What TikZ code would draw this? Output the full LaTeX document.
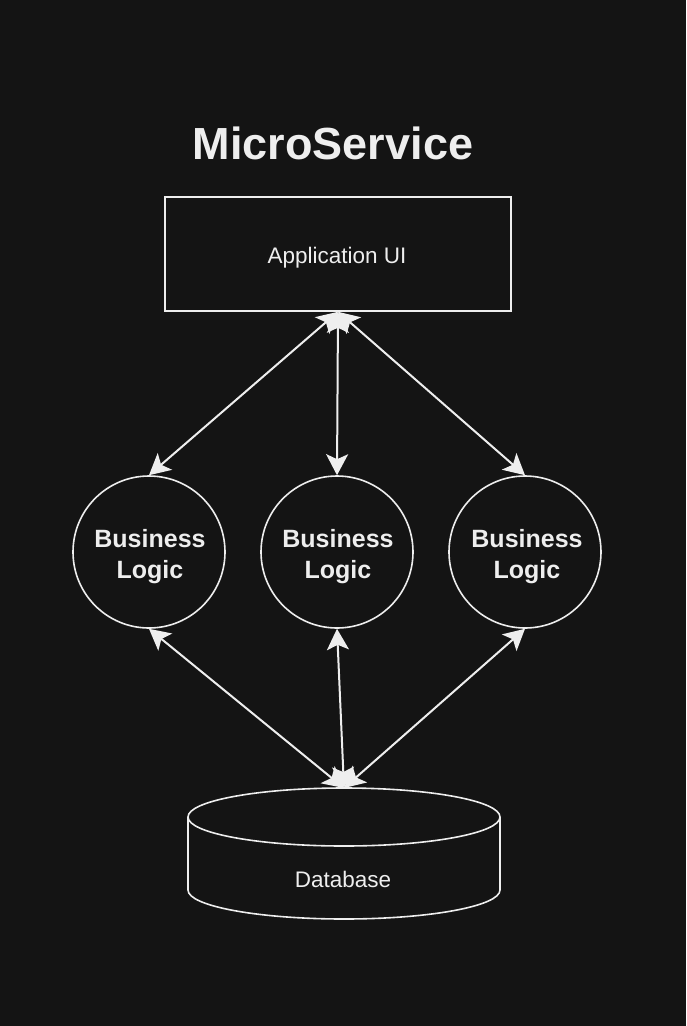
\documentclass[tikz,border=0pt]{standalone}
\usepackage{fontspec}
\setmainfont{Liberation Sans}
\usetikzlibrary{arrows.meta}
\definecolor{bg}{HTML}{141414}
\definecolor{fg}{HTML}{EEEEEE}
\begin{document}
\begin{tikzpicture}[x=1pt,y=-1pt,
  shapeline/.style={draw=fg, line width=1.6pt},
  conn/.style={draw=fg, line width=2pt, {Stealth[length=21pt,width=22pt,inset=5pt]}-{Stealth[length=21pt,width=22pt,inset=5pt]}},
  bizcircle/.style={shapeline, circle, minimum size=152pt, inner sep=0pt},
  biztext/.style={text=fg, anchor=base, inner sep=0pt, font=\fontsize{25}{30}\selectfont\bfseries},
  plaintext/.style={text=fg, anchor=base, inner sep=0pt, font=\fontsize{22.5}{27}\selectfont}
]
\fill[bg] (0,0) rectangle (686,1026);
\useasboundingbox (0,0) rectangle (686,1026);

% title
\node[text=fg, anchor=base, inner sep=0pt, font=\fontsize{45}{54}\selectfont\bfseries] (title) at (333,159) {MicroService};

% application UI box
\node[shapeline, rectangle, minimum width=346pt, minimum height=114pt, inner sep=0pt] (app) at (338,254) {};
\node[plaintext] (apptext) at (337,263) {Application UI};

% business logic circles
\node[bizcircle] (b1) at (149,552) {};
\node[bizcircle] (b2) at (337,552) {};
\node[bizcircle] (b3) at (525,552) {};
\node[biztext] (b1a) at (150,547) {Business};
\node[biztext] (b1b) at (150,578) {Logic};
\node[biztext] (b2a) at (338,547) {Business};
\node[biztext] (b2b) at (338,578) {Logic};
\node[biztext] (b3a) at (527,547) {Business};
\node[biztext] (b3b) at (527,578) {Logic};

% database cylinder
\draw[shapeline] (344,817) ellipse [x radius=156pt, y radius=29pt];
\draw[shapeline] (188,817) -- (188,890) arc[start angle=180, end angle=360, x radius=156pt, y radius=29pt] -- (500,817);
\coordinate (dbtop) at (344,788);
\node[plaintext] (dbtext) at (343,887) {Database};

% connectors
\draw[conn] (app.south) -- (b1.north);
\draw[conn] (app.south) -- (b2.north);
\draw[conn] (app.south) -- (b3.north);
\draw[conn] (b1.south) -- (dbtop);
\draw[conn] (b2.south) -- (dbtop);
\draw[conn] (b3.south) -- (dbtop);
\end{tikzpicture}
\end{document}
